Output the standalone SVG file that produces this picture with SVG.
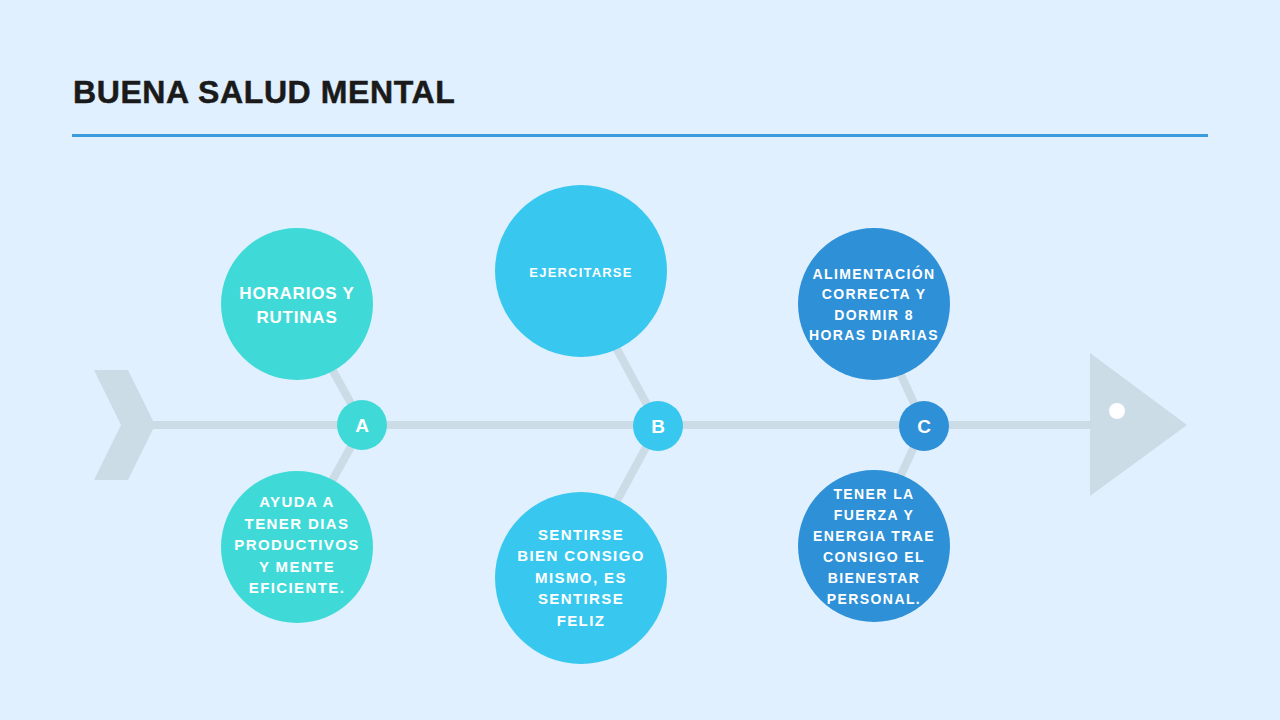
<svg xmlns="http://www.w3.org/2000/svg" width="1280" height="720" viewBox="0 0 1280 720">
<style>
.bone{stroke:#CCDCE6;stroke-width:8;fill:none;stroke-linecap:butt}
.t{font-family:"Liberation Sans",Arial,sans-serif;font-weight:bold;fill:#FFFFFF;text-anchor:middle}
.a{fill:#3FDAD8}.b{fill:#38C8EF}.c{fill:#2E90D7}
</style>
<rect width="1280" height="720" fill="#E0F0FE"/>
<text x="73" y="103" font-family="Liberation Sans, Arial, sans-serif" font-weight="bold" font-size="32" letter-spacing="0.6" fill="#1A1A1A" stroke="#1A1A1A" stroke-width="0.5">BUENA SALUD MENTAL</text>
<line x1="72" y1="135.5" x2="1208" y2="135.5" stroke="#3A9BDC" stroke-width="3"/>
<g id="tail"><polygon points="94,370 128,370 155,425 128,480 94,480 121,425" fill="#CCDCE6"/></g>
<g id="head"><polygon points="1090,353 1187,425 1090,496" fill="#CCDCE6"/><circle cx="1117" cy="411" r="8" fill="#FFFFFF"/></g>
<g id="connectors">
<line class="bone" x1="150" y1="425" x2="1092" y2="425"/>
<line class="bone" x1="363" y1="425" x2="328" y2="362"/>
<line class="bone" x1="363" y1="425" x2="328" y2="488"/>
<line class="bone" x1="658" y1="425" x2="612" y2="340"/>
<line class="bone" x1="658" y1="425" x2="612" y2="510"/>
<line class="bone" x1="924" y1="425" x2="895" y2="362"/>
<line class="bone" x1="924" y1="425" x2="895" y2="488"/>
</g>
<g id="A"><circle class="a" cx="362" cy="425" r="25"/><text class="t" x="362" y="432" font-size="19">A</text></g>
<g id="A1"><circle class="a" cx="297" cy="304" r="76"/>
<text class="t" font-size="17" letter-spacing="0.8"><tspan x="297" y="299">HORARIOS Y</tspan><tspan x="297" y="323">RUTINAS</tspan></text></g>
<g id="A2"><circle class="a" cx="297" cy="547" r="76"/>
<text class="t" font-size="15" letter-spacing="1.4"><tspan x="297" y="507">AYUDA A</tspan><tspan x="297" y="529">TENER DIAS</tspan><tspan x="297" y="550">PRODUCTIVOS</tspan><tspan x="297" y="572">Y MENTE</tspan><tspan x="297" y="593">EFICIENTE.</tspan></text></g>
<g id="B"><circle class="b" cx="658" cy="426" r="25"/><text class="t" x="658" y="433" font-size="19">B</text></g>
<g id="B1"><circle class="b" cx="581" cy="271" r="86"/>
<text class="t" font-size="13" letter-spacing="1.2"><tspan x="581" y="277">EJERCITARSE</tspan></text></g>
<g id="B2"><circle class="b" cx="581" cy="578" r="86"/>
<text class="t" font-size="15" letter-spacing="1.4"><tspan x="581" y="540">SENTIRSE</tspan><tspan x="581" y="561">BIEN CONSIGO</tspan><tspan x="581" y="583">MISMO, ES</tspan><tspan x="581" y="604">SENTIRSE</tspan><tspan x="581" y="626">FELIZ</tspan></text></g>
<g id="C"><circle class="c" cx="924" cy="426" r="25"/><text class="t" x="924" y="433" font-size="19">C</text></g>
<g id="C1"><circle class="c" cx="874" cy="304" r="76"/>
<text class="t" font-size="14" letter-spacing="1.4"><tspan x="874" y="279">ALIMENTACIÓN</tspan><tspan x="874" y="299">CORRECTA Y</tspan><tspan x="874" y="320">DORMIR 8</tspan><tspan x="874" y="340">HORAS DIARIAS</tspan></text></g>
<g id="C2"><circle class="c" cx="874" cy="546" r="76"/>
<text class="t" font-size="14" letter-spacing="1.4"><tspan x="874" y="499">TENER LA</tspan><tspan x="874" y="520">FUERZA Y</tspan><tspan x="874" y="541">ENERGIA TRAE</tspan><tspan x="874" y="562">CONSIGO EL</tspan><tspan x="874" y="583">BIENESTAR</tspan><tspan x="874" y="604">PERSONAL.</tspan></text></g>
</svg>
